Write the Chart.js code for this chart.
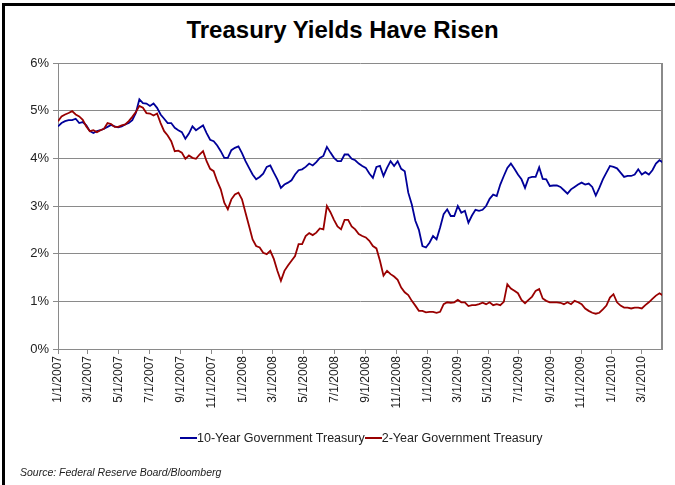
<!DOCTYPE html>
<html>
<head>
<meta charset="utf-8">
<title>Treasury Yields Have Risen</title>
<script src="https://cdn.jsdelivr.net/npm/chart.js@4.4.1/dist/chart.umd.min.js"></script>
<style>
  body { margin: 0; background: #fff; font-family: 'Liberation Sans', Arial, sans-serif; color: #222; }
  #wrap { position: relative; width: 675px; height: 485px; overflow: hidden; }
  #frame { position: absolute; left: 2px; top: 3px; width: 720px; height: 520px; border-top: 3px solid #000; border-left: 3px solid #000; }
  #title { position: absolute; left: 5px; width: 675px; top: 16px; text-align: center; font-weight: bold; font-size: 24px; color: #000; }
  #myChart { position: absolute; left: 0; top: 0; }
  #legend { position: absolute; left: 180px; top: 431px; font-size: 12.5px; white-space: nowrap; }
  #legend i { display: inline-block; width: 17px; height: 2px; vertical-align: middle; margin-top: -2px; }
  #source { position: absolute; left: 20px; top: 466px; font-size: 10.5px; font-style: italic; }
</style>
</head>
<body>
<div id="wrap">
  <div id="frame"></div>
  <div id="title">Treasury Yields Have Risen</div>
  <canvas id="myChart" width="675" height="485"></canvas>
  <div id="legend"><i style="background:#000099"></i>10-Year Government Treasury<i style="background:#990000"></i>2-Year Government Treasury</div>
  <div id="source">Source: Federal Reserve Board/Bloomberg</div>
</div>
<script>
// weekly closes (%), first point is the week of 1/1/2007
const tenYear = [
  4.67, 4.74, 4.78, 4.80, 4.80, 4.83, 4.74, 4.76, 4.69, 4.57,
  4.53, 4.57, 4.59, 4.62, 4.66, 4.70, 4.67, 4.65, 4.67, 4.71,
  4.74, 4.80, 4.95, 5.24, 5.16, 5.15, 5.10, 5.15, 5.06, 4.92,
  4.83, 4.74, 4.74, 4.64, 4.59, 4.55, 4.41, 4.52, 4.67, 4.59,
  4.64, 4.69, 4.53, 4.39, 4.36, 4.27, 4.15, 4.01, 4.01, 4.17,
  4.22, 4.25, 4.11, 3.94, 3.80, 3.66, 3.56, 3.61, 3.68, 3.82,
  3.85, 3.70, 3.56, 3.38, 3.45, 3.49, 3.54, 3.66, 3.75, 3.77,
  3.82, 3.89, 3.85, 3.92, 4.01, 4.05, 4.24, 4.12, 4.01, 3.94,
  3.94, 4.08, 4.08, 3.99, 3.96, 3.89, 3.84, 3.80, 3.68, 3.59,
  3.82, 3.84, 3.63, 3.80, 3.94, 3.84, 3.94, 3.78, 3.73, 3.28,
  3.03, 2.69, 2.50, 2.16, 2.13, 2.23, 2.37, 2.30, 2.55, 2.83,
  2.93, 2.79, 2.79, 3.00, 2.86, 2.90, 2.65, 2.80, 2.92, 2.90,
  2.92, 3.00, 3.15, 3.24, 3.21, 3.45, 3.63, 3.80, 3.89, 3.78,
  3.66, 3.56, 3.38, 3.59, 3.61, 3.61, 3.81, 3.57, 3.56, 3.42,
  3.43, 3.43, 3.40, 3.33, 3.26, 3.35, 3.40, 3.45, 3.49, 3.45,
  3.47, 3.40, 3.22, 3.38, 3.56, 3.70, 3.84, 3.82, 3.79, 3.70,
  3.61, 3.63, 3.63, 3.66, 3.77, 3.66, 3.71, 3.66, 3.75, 3.89,
  3.96, 3.91
];
const twoYear = [
  4.78, 4.88, 4.92, 4.95, 4.99, 4.92, 4.88, 4.81, 4.67, 4.57,
  4.59, 4.55, 4.59, 4.62, 4.74, 4.72, 4.66, 4.66, 4.69, 4.71,
  4.78, 4.87, 4.97, 5.10, 5.06, 4.95, 4.94, 4.90, 4.94, 4.74,
  4.57, 4.48, 4.36, 4.15, 4.16, 4.12, 3.99, 4.06, 4.01, 3.99,
  4.08, 4.15, 3.94, 3.78, 3.73, 3.52, 3.35, 3.07, 2.93, 3.14,
  3.24, 3.28, 3.14, 2.86, 2.58, 2.30, 2.16, 2.13, 2.02, 1.99,
  2.06, 1.89, 1.64, 1.43, 1.64, 1.75, 1.85, 1.95, 2.20, 2.20,
  2.37, 2.43, 2.39, 2.44, 2.53, 2.51, 3.00, 2.87, 2.71, 2.57,
  2.51, 2.71, 2.71, 2.57, 2.51, 2.41, 2.37, 2.34, 2.27, 2.16,
  2.11, 1.85, 1.54, 1.64, 1.57, 1.52, 1.45, 1.29, 1.19, 1.13,
  1.01, 0.91, 0.80, 0.80, 0.77, 0.78, 0.78, 0.76, 0.78, 0.94,
  0.98, 0.97, 0.98, 1.03, 0.98, 0.98, 0.90, 0.92, 0.92, 0.94,
  0.97, 0.94, 0.98, 0.92, 0.94, 0.92, 0.99, 1.36, 1.27, 1.22,
  1.17, 1.03, 0.96, 1.03, 1.10, 1.22, 1.26, 1.06, 1.01, 0.98,
  0.98, 0.98, 0.97, 0.94, 0.98, 0.94, 1.01, 0.98, 0.94, 0.85,
  0.80, 0.76, 0.74, 0.76, 0.83, 0.91, 1.08, 1.15, 0.98, 0.91,
  0.87, 0.87, 0.85, 0.87, 0.87, 0.85, 0.92, 0.98, 1.05, 1.12,
  1.17, 1.12
];
const tickLabels = [
  '1/1/2007', '3/1/2007', '5/1/2007', '7/1/2007', '9/1/2007', '11/1/2007',
  '1/1/2008', '3/1/2008', '5/1/2008', '7/1/2008', '9/1/2008', '11/1/2008',
  '1/1/2009', '3/1/2009', '5/1/2009', '7/1/2009', '9/1/2009', '11/1/2009',
  '1/1/2010', '3/1/2010'
];

const DAY = 86400000;
const origin = Date.UTC(2007, 0, 1);
const toDay = (label) => {
  const [m, d, y] = label.split('/').map(Number);
  return (Date.UTC(y, m - 1, d) - origin) / DAY;
};
const tickDays = tickLabels.map(toDay);
const weekly = (arr) => arr.map((v, i) => ({ x: i * 7, y: v }));

// right edge of the plot box (the series just runs off it)
const plotFrame = {
  id: 'plotFrame',
  beforeDatasetsDraw(chart) {
    const { ctx, chartArea: a } = chart;
    ctx.save();
    ctx.strokeStyle = '#8a8a8a';
    ctx.lineWidth = 2;
    ctx.beginPath();
    ctx.moveTo(a.right, a.top);
    ctx.lineTo(a.right, a.bottom + 1);
    ctx.stroke();
    ctx.restore();
  },
};

const ctx = document.getElementById('myChart');
new Chart(ctx, {
  type: 'line',
  data: {
    datasets: [
      {
        label: '10-Year Government Treasury',
        data: weekly(tenYear),
        borderColor: '#000099',
        borderWidth: 1.8,
        pointRadius: 0,
        tension: 0,
        order: 1,
      },
      {
        label: '2-Year Government Treasury',
        data: weekly(twoYear),
        borderColor: '#990000',
        borderWidth: 1.8,
        pointRadius: 0,
        tension: 0,
        order: 0,
      },
    ],
  },
  plugins: [plotFrame],
  options: {
    responsive: false,
    animation: false,
    layout: {
      padding: { left: 0, top: 63, right: 13, bottom: 66 },
    },
    plugins: {
      legend: { display: false },
      tooltip: { enabled: false },
    },
    scales: {
      x: {
        type: 'linear',
        min: 0,
        max: 1195,
        afterBuildTicks: (scale) => {
          scale.ticks = tickDays.map((v) => ({ value: v }));
        },
        afterFit: (scale) => {
          scale.height = 70;
        },
        ticks: {
          autoSkip: false,
          minRotation: 90,
          maxRotation: 90,
          padding: 2,
          color: '#222',
          font: { family: "'Liberation Sans', Arial", size: 12 },
          callback: (val, i) => tickLabels[i],
        },
        grid: {
          drawOnChartArea: false,
          drawTicks: true,
          tickLength: 5,
          color: '#8a8a8a',
        },
        border: { color: '#8a8a8a', width: 1 },
      },
      y: {
        min: 0,
        max: 6,
        afterFit: (scale) => {
          scale.width = 58;
        },
        ticks: {
          stepSize: 1,
          padding: 4,
          color: '#222',
          font: { family: "'Liberation Sans', Arial", size: 13 },
          callback: (val) => val + '%',
        },
        grid: {
          color: '#8a8a8a',
          tickLength: 5,
        },
        border: { color: '#8a8a8a', width: 1 },
      },
    },
  },
});
</script>
</body>
</html>
